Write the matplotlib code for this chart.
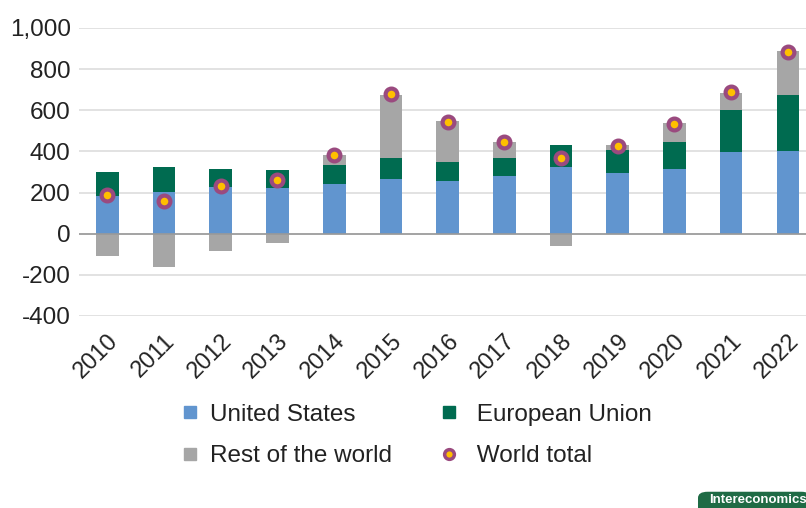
import numpy as np
import matplotlib.pyplot as plt
from matplotlib.lines import Line2D
from matplotlib.patches import FancyBboxPatch

plt.rcParams['font.family'] = ['Liberation Sans', 'DejaVu Sans']

years = ["2010", "2011", "2012", "2013", "2014", "2015", "2016",
         "2017", "2018", "2019", "2020", "2021", "2022"]
us = [181, 204, 225, 222, 243, 265, 254, 278, 322, 294, 316, 395, 403]
eu = [117, 120, 91, 87, 92, 105, 96, 92, 107, 112, 132, 207, 272]
rest = [-110, -162, -83, -47, 47, 305, 197, 78, -62, 24, 89, 84, 213]
world = [186, 159, 233, 261, 380, 677, 545, 445, 366, 427, 534, 687, 885]

c_us = "#6195cf"
c_eu = "#006b50"
c_rest = "#a6a6a6"
c_face = "#ffbf00"
c_edge = "#9a4a7f"

fig = plt.figure(figsize=(8.06, 5.08), dpi=100)
ax = fig.add_axes([0.098, 0.378, 0.902, 0.567])

x = np.arange(len(years))
us_a = np.array(us)
eu_a = np.array(eu)
rest_a = np.array(rest)
w = 0.4

ax.bar(x, us_a, w, color=c_us, zorder=2)
ax.bar(x, eu_a, w, bottom=us_a, color=c_eu, zorder=2)
rest_bottom = np.where(rest_a >= 0, us_a + eu_a, 0)
ax.bar(x, rest_a, w, bottom=rest_bottom, color=c_rest, zorder=2)
ax.plot(x, world, linestyle="none", marker="o", markersize=8.5,
        markerfacecolor=c_face, markeredgecolor=c_edge, markeredgewidth=3, zorder=4)

ax.axhline(0, color="#999999", lw=1.2, zorder=3)
ax.set_ylim(-400, 1000)
ax.set_xlim(-0.5, 12.32)
ax.set_yticks(range(-400, 1001, 200))
ax.set_yticklabels([f"{v:,}" for v in range(-400, 1001, 200)], fontsize=17.5, color="#222222")
ax.yaxis.grid(True, color="#dddddd", lw=1.2, zorder=0)
ax.set_xticks(x)
ax.set_xticklabels(years, rotation=45, ha="right", rotation_mode="anchor",
                   fontsize=17, color="#222222")
ax.tick_params(length=0)
ax.tick_params(axis="y", pad=6)
ax.tick_params(axis="x", pad=10)
for s in ax.spines.values():
    s.set_visible(False)

handles = [
    Line2D([], [], ls="none", marker="s", markersize=9, color=c_us),
    Line2D([], [], ls="none", marker="s", markersize=9, color=c_rest),
    Line2D([], [], ls="none", marker="s", markersize=9, color=c_eu),
    Line2D([], [], ls="none", marker="o", markersize=7, markerfacecolor=c_face,
           markeredgecolor=c_edge, markeredgewidth=2.5),
]
labels = ["United States", "Rest of the world", " European Union", " World total"]
fig.legend(handles, labels, ncol=2, loc="upper left", bbox_to_anchor=(0.193, 0.248),
           frameon=False, fontsize=17.5, labelcolor="#222222", columnspacing=1.85,
           handletextpad=0.35, labelspacing=0.8, handlelength=1.0)

badge = FancyBboxPatch((0.866, -0.02), 0.14, 0.052, transform=fig.transFigure,
                       boxstyle="round,pad=0,rounding_size=0.012",
                       facecolor="#1f6b45", edgecolor="none")
fig.patches.append(badge)
fig.text(0.94, 0.015, "Intereconomics", color="white", fontsize=9.5,
         fontweight="bold", ha="center", va="center")

fig.savefig("out.png", dpi=100)
